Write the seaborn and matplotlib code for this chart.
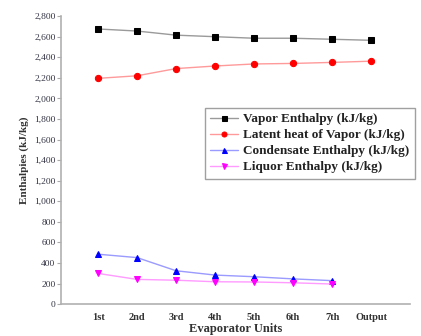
import matplotlib
matplotlib.use("Agg")
import matplotlib.pyplot as plt
import seaborn as sns
import pandas as pd
from matplotlib.ticker import FuncFormatter

units = ["1st", "2nd", "3rd", "4th", "5th", "6th", "7th", "Output"]
vapor_enthalpy = [2675, 2655, 2615, 2600, 2585, 2585, 2575, 2565]
latent_heat = [2195, 2220, 2290, 2315, 2335, 2340, 2350, 2362]
condensate_enthalpy = [485, 452, 324, 282, 266, 245, 228]
liquor_enthalpy = [298, 240, 232, 217, 215, 207, 195]

series = [
    ("Vapor Enthalpy (kJ/kg)", vapor_enthalpy, "s", "#9a9a9a", "black"),
    ("Latent heat of Vapor (kJ/kg)", latent_heat, "o", "#ff9a9a", "#ff0000"),
    ("Condensate Enthalpy (kJ/kg)", condensate_enthalpy, "^", "#9a9aff", "#0000ff"),
    ("Liquor Enthalpy (kJ/kg)", liquor_enthalpy, "v", "#ff9aff", "#ff00ff"),
]

sns.set_theme(style="white")
plt.rcParams["font.family"] = ["Liberation Serif", "DejaVu Serif"]

fig = plt.figure(figsize=(4.21, 3.36), dpi=100)
ax = fig.add_axes([0.145, 0.095, 0.829, 0.857])

for name, vals, mk, lc, mc in series:
    df = pd.DataFrame({"x": list(range(len(vals))), "y": vals})
    sns.lineplot(data=df, x="x", y="y", ax=ax, color=lc, linewidth=1.0,
                 marker=mk, markersize=4.5,
                 markerfacecolor=mc, markeredgecolor=mc, label=name)

ax.set_xlim(-0.95, 8.0)
ax.set_ylim(0, 2800)
ax.set_xticks(range(len(units)))
ax.set_xticklabels(units, fontsize=7.5, fontweight="bold", color="#333333")
ax.set_yticks(range(0, 2801, 200))
ax.yaxis.set_major_formatter(FuncFormatter(lambda v, p: f"{int(v):,}"))
for lbl in ax.get_yticklabels():
    lbl.set_fontsize(6.8)
    lbl.set_color("#334")
ax.tick_params(axis="y", left=True, length=3, width=0.8, color="#aaaaaa", pad=1)
ax.tick_params(axis="x", bottom=False, pad=0.5)

ax.set_xlabel("Evaporator Units", fontsize=9, fontweight="bold", color="#333333", labelpad=1)
ax.set_ylabel("Enthalpies (kJ/kg)", fontsize=8, fontweight="bold", color="#333333", labelpad=4)

sns.despine(ax=ax)
for s in ("left", "bottom"):
    ax.spines[s].set_color("#b0b0b0")
    ax.spines[s].set_linewidth(1.2)

leg = ax.legend(loc="upper left", bbox_to_anchor=(0.413, 0.681),
                prop={"family": "Liberation Serif", "weight": "bold", "size": 9.5},
                frameon=True, fancybox=False, handlelength=2.1, borderpad=0.4,
                labelspacing=0.28, handletextpad=0.4, borderaxespad=0,
                markerscale=0.8)
leg.get_frame().set_edgecolor("#888888")
leg.get_frame().set_linewidth(1.0)
for t in leg.get_texts():
    t.set_color("#222222")

fig.savefig("out.png", dpi=100)
